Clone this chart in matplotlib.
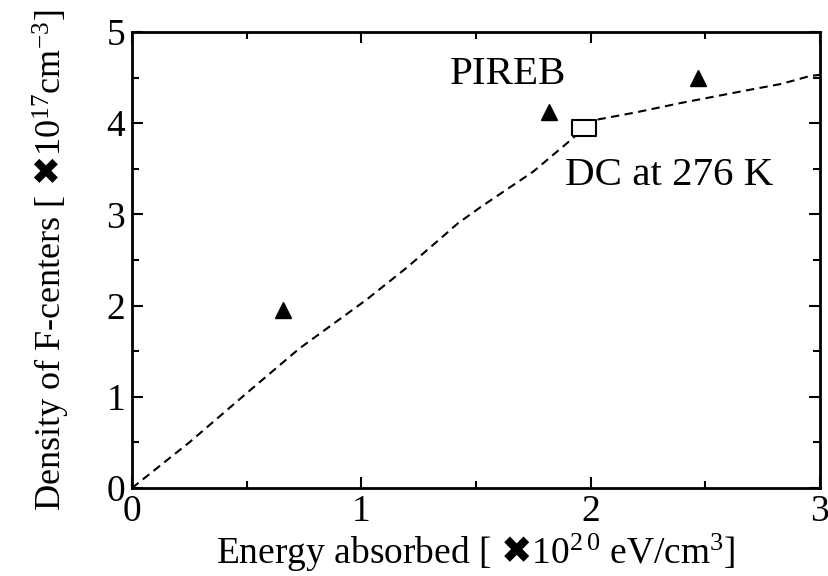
import matplotlib
matplotlib.use("Agg")
import matplotlib.pyplot as plt
from matplotlib.ticker import MultipleLocator

plt.rcParams['font.family'] = ['Liberation Serif', 'DejaVu Sans']
plt.rcParams['mathtext.fontset'] = 'custom'
plt.rcParams['mathtext.rm'] = 'Liberation Serif'
plt.rcParams['mathtext.it'] = 'Liberation Serif'
plt.rcParams['mathtext.sf'] = 'DejaVu Sans'

# data
line_x = [0, 0.25, 0.5, 0.73, 1.02, 1.2, 1.37, 1.42, 1.52, 1.75, 1.92, 1.97]
line_y = [0, 0.5, 1.04, 1.53, 2.06, 2.42, 2.79, 2.90, 3.08, 3.47, 3.83, 3.95]
line2_x = [2.03, 2.2, 2.39, 2.68, 2.83, 2.96, 3.0]
line2_y = [4.04, 4.12, 4.22, 4.36, 4.43, 4.52, 4.53]
pireb_x = [0.66, 1.82, 2.47]
pireb_y = [1.95, 4.12, 4.50]
dc_x = [1.97]
dc_y = [3.95]

fig = plt.figure(figsize=(8.29, 5.76), dpi=100)
ax = fig.add_axes([132/829, 1-488/576, (820-132)/829, (488-32)/576])

ax.plot(line_x, line_y, color='black', lw=1.5, dashes=(4, 2.6))
ax.plot(line2_x, line2_y, color='black', lw=1.5, dashes=(4, 2.6))
ax.plot(pireb_x, pireb_y, linestyle='none', marker='^', color='black', markersize=11)
rect = [(-1, -0.7), (1, -0.7), (1, 0.7), (-1, 0.7), (-1, -0.7)]
ax.plot(dc_x, dc_y, linestyle='none', marker=rect, markersize=17, markerfacecolor='white',
        markeredgecolor='black', markeredgewidth=1.5)

ax.text(1.64, 4.53, 'PIREB', fontsize=29.5, ha='center', va='center')
ax.text(2.34, 3.43, 'DC at 276 K', fontsize=29.5, ha='center', va='center')

ax.set_xlim(0, 3)
ax.set_ylim(0, 5)
ax.xaxis.set_major_locator(MultipleLocator(1))
ax.xaxis.set_minor_locator(MultipleLocator(0.5))
ax.yaxis.set_major_locator(MultipleLocator(1))
ax.yaxis.set_minor_locator(MultipleLocator(0.5))
ax.tick_params(which='both', direction='in', top=True, right=True, width=1.5, labelsize=27)
ax.tick_params(which='major', length=8, pad=5)
ax.tick_params(which='minor', length=5)
for s in ax.spines.values():
    s.set_linewidth(2)

ax.set_xlabel(r'Energy absorbed [ $\mathsf{✖}$10$^{2\,0}$ eV/cm$^{3}$]', fontsize=27, labelpad=2)
ax.set_ylabel(r'Density of F-centers [ $\mathsf{✖}$10$^{17}$cm$^{-3}$]', fontsize=26, labelpad=25)

fig.savefig('out.png', dpi=100)
